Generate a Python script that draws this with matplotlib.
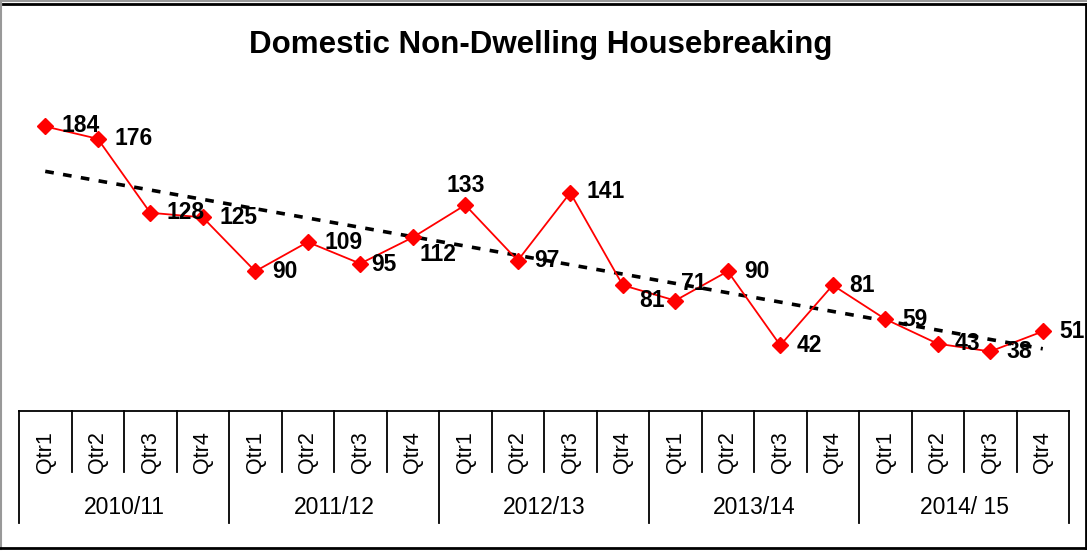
import numpy as np
import matplotlib
matplotlib.use("Agg")
import matplotlib.pyplot as plt
from matplotlib.transforms import blended_transform_factory
from matplotlib.lines import Line2D

plt.rcParams['font.family'] = ['Liberation Sans', 'DejaVu Sans']

title = "Domestic Non-Dwelling Housebreaking"
years = ["2010/11", "2011/12", "2012/13", "2013/14", "2014/ 15"]
quarters = ["Qtr1", "Qtr2", "Qtr3", "Qtr4"]
values = [184, 176, 128, 125, 90, 109, 95, 112, 133, 97, 141, 81, 71, 90, 42, 81, 59, 43, 38, 51]

# label offsets (points): style only
label_dx = [12, 12, 12, 12, 12, 12, 8, 5, 0, 12, 12, 12, 4, 12, 12, 12, 12, 12, 12, 12]
label_dy = [1, 0, 0, 0, 0, 0, -1, -12, 14, 0, 1, -11, 12, 0, 0, 0, 0, 0, 0, 0]
label_ha = ['left'] * 20
label_ha[8] = 'center'

W, H = 1087, 551
fig = plt.figure(figsize=(W / 100, H / 100), dpi=100)

# axes placement in pixels
x_left, x_right = 19, 1069
y_top, y_bot = 90, 410
ax = fig.add_axes([x_left / W, 1 - y_bot / H, (x_right - x_left) / W, (y_bot - y_top) / H])
n = len(values)
ax.set_xlim(-0.5, n - 0.5)
px_per_unit = 1.541
ax.set_ylim(0, (y_bot - y_top) / px_per_unit)
ax.axis('off')

x = np.arange(n)
ax.plot(x, values, color='#ff0000', lw=1.3, marker='D', markersize=8.5,
        markerfacecolor='#ff0000', markeredgecolor='#ff0000', zorder=3, clip_on=False)

# linear trendline
coef = np.polyfit(x, values, 1)
trend = np.polyval(coef, x)
ax.plot(x, trend, color='black', lw=2.6, dashes=(2.4, 2.6), zorder=2, clip_on=False)

for i, v in enumerate(values):
    ax.annotate(str(v), (i, v), xytext=(label_dx[i], label_dy[i]), textcoords='offset points',
                ha=label_ha[i], va='center', fontsize=16.5, fontweight='bold', color='black',
                zorder=4, annotation_clip=False)

# category table
tr = blended_transform_factory(ax.transData, fig.transFigure)
def fy(py):
    return 1 - py / H
table_top, q_bot, y_bot2 = 411, 472, 523
fig.add_artist(Line2D([-0.5, n - 0.5], [fy(table_top)] * 2, transform=tr, color='black', lw=1.3))
for k in range(n + 1):
    xb = k - 0.5
    bottom = y_bot2 if k % 4 == 0 else q_bot
    fig.add_artist(Line2D([xb, xb], [fy(table_top), fy(bottom)], transform=tr, color='black', lw=1.3))
for i in range(n):
    fig.text(i, fy(452), quarters[i % 4], transform=tr, rotation=90, ha='center', va='center',
             fontsize=15.5)
for j, yl in enumerate(years):
    fig.text(j * 4 + 1.5, fy(508), yl, transform=tr, ha='center', va='center', fontsize=16.5)

fig.text(541 / W, fy(45), title, ha='center', va='center', fontsize=22.5, fontweight='bold')

# outer frame
ft = fig.transFigure
fig.add_artist(Line2D([0, 1], [fy(1)] * 2, transform=ft, color='#999999', lw=1.5))
fig.add_artist(Line2D([0.5 / W] * 2, [fy(0), fy(549)], transform=ft, color='#999999', lw=1.5))
fig.add_artist(Line2D([3 / W, 1085.5 / W], [fy(4)] * 2, transform=ft, color='black', lw=2))
fig.add_artist(Line2D([1085.5 / W] * 2, [fy(4), fy(548)], transform=ft, color='black', lw=2))
fig.add_artist(Line2D([0, 1085.5 / W], [fy(548)] * 2, transform=ft, color='black', lw=2))

fig.savefig('out.png', dpi=100)
